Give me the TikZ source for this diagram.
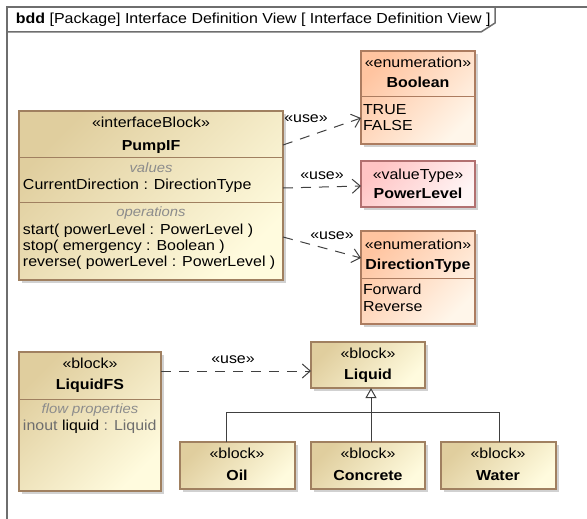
\documentclass[tikz,border=0pt]{standalone}
\usepackage{fontspec}
\setmainfont{Liberation Sans}[FakeStretch=1.1]
\usetikzlibrary{arrows.meta,shadows,calc}

\definecolor{blkdark}{RGB}{224,206,158}
\definecolor{blklight}{RGB}{255,251,222}
\definecolor{blkborder}{RGB}{160,128,96}
\definecolor{enumdark}{RGB}{255,196,160}
\definecolor{enumlight}{RGB}{255,246,234}
\definecolor{enumborder}{RGB}{172,124,96}
\definecolor{vtdark}{RGB}{255,196,196}
\definecolor{vtlight}{RGB}{255,246,246}
\definecolor{vtborder}{RGB}{178,112,112}
\definecolor{framecol}{RGB}{110,110,110}
\definecolor{linecol}{RGB}{64,64,64}
\definecolor{txtgray}{RGB}{110,110,110}
\definecolor{lblgray}{RGB}{140,140,140}

\tikzset{
  x=1pt, y=-1pt,
  every node/.style={inner sep=0pt, outer sep=0pt},
  shaded box/.style={draw, line width=1.2pt, anchor=north west,
    drop shadow={shadow xshift=3pt, shadow yshift=-3pt, fill=black!40, opacity=0.45}},
  blockbox/.style={shaded box, draw=blkborder, top color=blkdark, bottom color=blklight, shading angle=45},
  enumbox/.style={shaded box, draw=enumborder, top color=enumdark, bottom color=enumlight, shading angle=45},
  vtbox/.style={shaded box, draw=vtborder, top color=vtdark, bottom color=vtlight, shading angle=45},
  txt/.style={font=\fontsize{14.5}{16}\selectfont, text height=11pt, text depth=3pt},
  namet/.style={txt, font=\fontsize{14.5}{16}\selectfont\bfseries},
  lbl/.style={txt, text=lblgray, font=\fontsize{13.5}{16}\selectfont\itshape},
  sep/.style={draw=blkborder, line width=1pt},
  usedep/.style={draw=linecol, line width=1pt, dash pattern=on 10pt off 8pt,
    -{Straight Barb[length=8pt,width=14pt]}},
  genline/.style={draw=linecol, line width=1pt},
}

\begin{document}
\begin{tikzpicture}
\useasboundingbox (0,0) rectangle (587,519);

% diagram frame and its name tab
\draw[framecol, line width=1.5pt] (7,519) -- (7,7) -- (587,7);
\draw[framecol, line width=1.5pt] (7,32) -- (481,32) -- (495,23) -- (495,7);
\node[txt, anchor=west] (title) at (16,20)
  {\textbf{bdd} [Package] Interface Definition View [ Interface Definition View ]};

% interface block PumpIF
\node[blockbox, minimum width=264pt, minimum height=169pt] (pump) at (19,111) {};
\draw[sep] (19,157) -- (283,157);
\draw[sep] (19,202) -- (283,202);
\node[txt] (pumpst) at (151,124) {«interfaceBlock»};
\node[namet] (pumpnm) at (151,146) {PumpIF};
\node[lbl] (pumpval) at (151,168) {values};
\node[txt, anchor=west] (pumpcd) at (23,185) {CurrentDirection : DirectionType};
\node[lbl] (pumpops) at (151,212) {operations};
\node[txt, anchor=west] (op1) at (23,230) {start( powerLevel : PowerLevel )};
\node[txt, anchor=west] (op2) at (23,246) {stop( emergency : Boolean )};
\node[txt, anchor=west] (op3) at (23,262) {reverse( powerLevel : PowerLevel )};

% enumeration Boolean
\node[enumbox, minimum width=114pt, minimum height=93pt] (bool) at (361,51) {};
\draw[draw=enumborder, line width=1pt] (361,97) -- (475,97);
\node[txt] (boolst) at (418,64) {«enumeration»};
\node[namet] (boolnm) at (418,84) {Boolean};
\node[txt, anchor=west] (lit1) at (363,110) {TRUE};
\node[txt, anchor=west] (lit2) at (363,127) {FALSE};

% value type PowerLevel
\node[vtbox, minimum width=114pt, minimum height=46pt] (power) at (361,161) {};
\node[txt] (powst) at (418,175) {«valueType»};
\node[namet] (pownm) at (418,194) {PowerLevel};

% enumeration DirectionType
\node[enumbox, minimum width=114pt, minimum height=93pt] (dirt) at (361,231) {};
\draw[draw=enumborder, line width=1pt] (361,278) -- (475,278);
\node[txt] (dirst) at (418,245) {«enumeration»};
\node[namet] (dirnm) at (418,265) {DirectionType};
\node[txt, anchor=west] (lit3) at (363,290) {Forward};
\node[txt, anchor=west] (lit4) at (363,307) {Reverse};

% block LiquidFS
\node[blockbox, minimum width=142pt, minimum height=139pt] (lfs) at (19,352) {};
\draw[sep] (19,399) -- (161,399);
\node[txt] (lfsst) at (90,364) {«block»};
\node[namet] (lfsnm) at (90,385) {LiquidFS};
\node[lbl] (lfsfp) at (90,409) {flow properties};
\node[txt, anchor=west] (lfsp) at (23,426)
  {\textcolor{txtgray}{inout} liquid \textcolor{txtgray}{: Liquid}};

% block Liquid and its specializations
\node[blockbox, minimum width=114pt, minimum height=46pt] (liquid) at (311,342) {};
\node[txt] (liqst) at (368,354) {«block»};
\node[namet] (liqnm) at (368,375) {Liquid};

\node[blockbox, minimum width=115pt, minimum height=47pt] (oil) at (180,442) {};
\node[txt] (oilst) at (237,454) {«block»};
\node[namet] (oilnm) at (237,476) {Oil};

\node[blockbox, minimum width=114pt, minimum height=47pt] (concrete) at (311,442) {};
\node[txt] (const) at (368,454) {«block»};
\node[namet] (connm) at (368,476) {Concrete};

\node[blockbox, minimum width=115pt, minimum height=47pt] (water) at (441,442) {};
\node[txt] (watst) at (498,454) {«block»};
\node[namet] (watnm) at (498,476) {Water};

% generalization tree
\coordinate (bus) at (371,412);
\draw[genline] ([xshift=-11.5pt]oil.north) |- (bus);
\draw[genline] ([xshift=0.5pt]water.north) |- (bus);
\draw[genline, -{Triangle[open, length=10pt, width=11pt, fill=white]}]
  ([xshift=3pt]concrete.north) -- ([xshift=3pt]liquid.south);

% usage dependencies
\draw[usedep] ($(pump.north east)+(0,34)$) -- ($(bool.north west)+(0,67)$);
\node[txt] (u1) at (306,119) {«use»};
\draw[usedep] ($(pump.north east)+(0,77)$) -- ($(power.north west)+(0,25)$);
\node[txt] (u2) at (322,175) {«use»};
\draw[usedep] ($(pump.north east)+(0,126)$) -- ($(dirt.north west)+(0,27)$);
\node[txt] (u3) at (332,235) {«use»};
\draw[usedep] (lfs.east |- 0,371) -- (liquid.west |- 0,371);
\node[txt] (u4) at (233,359) {«use»};
\end{tikzpicture}
\end{document}
